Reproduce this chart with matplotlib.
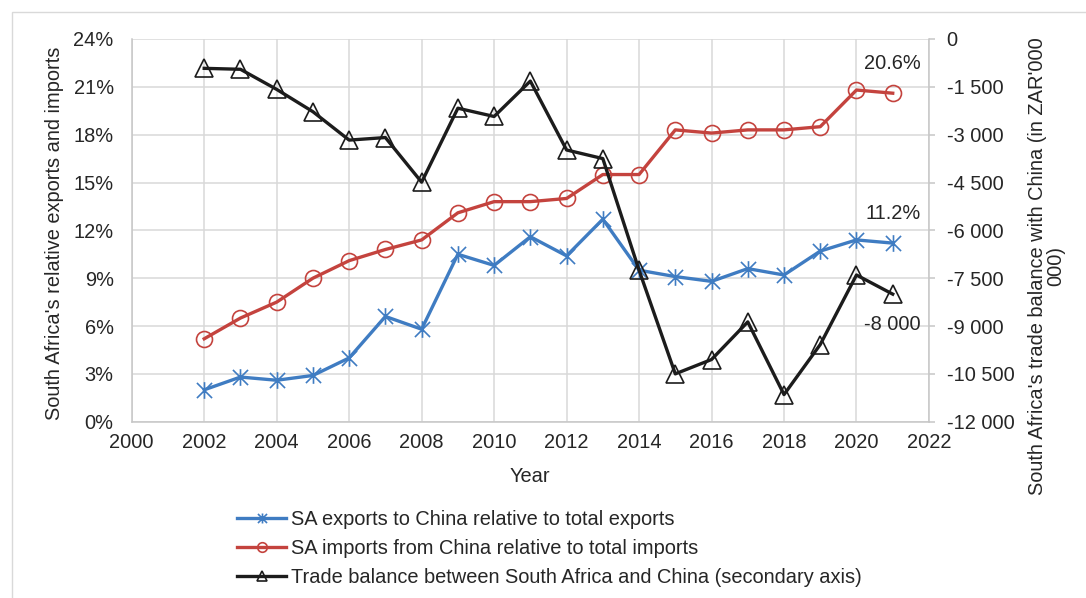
import matplotlib
matplotlib.use("Agg")
import matplotlib.pyplot as plt
from matplotlib.path import Path
from matplotlib.patches import Rectangle
from matplotlib.ticker import FuncFormatter

plt.rcParams['font.family'] = ['Liberation Sans', 'DejaVu Sans']

### DATA ###

years = [2002, 2003, 2004, 2005, 2006, 2007, 2008, 2009, 2010, 2011,
         2012, 2013, 2014, 2015, 2016, 2017, 2018, 2019, 2020, 2021]

# share of SA exports going to China (%)
exportShare = [2.0, 2.8, 2.6, 2.9, 4.0, 6.6, 5.8, 10.5, 9.8, 11.6,
               10.4, 12.7, 9.5, 9.1, 8.8, 9.6, 9.2, 10.7, 11.4, 11.2]

# share of SA imports coming from China (%)
importShare = [5.2, 6.5, 7.5, 9.0, 10.1, 10.8, 11.4, 13.1, 13.8, 13.8,
               14.0, 15.5, 15.5, 18.3, 18.1, 18.3, 18.3, 18.5, 20.8, 20.6]

# trade balance with China (ZAR'000 000)
tradeBalance = [-920, -950, -1580, -2280, -3170, -3090, -4490, -2170, -2430, -1320,
                -3480, -3750, -7250, -10500, -10050, -8870, -11150, -9580, -7400, -8000]

xTicks = list(range(2000, 2023, 2))
pctTicks = list(range(0, 25, 3))
balanceTicks = list(range(-12000, 1, 1500))

legendLabels = ["SA exports to China relative to total exports",
                "SA imports from China relative to total imports",
                "Trade balance between South Africa and China (secondary axis)"]

### STYLE ###

BLUE = '#3F7CC2'
RED = '#C4433E'
BLACK = '#1C1C1C'
GRID = '#D9D9D9'
SPINE = '#C6C6C6'
TEXT = '#262626'
FS = 14.4

# asterisk marker (x with a vertical bar), like the spreadsheet "star"
starPath = Path([(-1, -1), (1, 1), (-1, 1), (1, -1), (0, -1.1), (0, 1.1)],
                [Path.MOVETO, Path.LINETO] * 3)


def thousands(v, pos):
    return '{:,}'.format(int(v)).replace(',', ' ')


def percent(v, pos):
    return '{:d}%'.format(int(round(v)))


fig = plt.figure(figsize=(10.86, 5.98), dpi=100)
ax = fig.add_axes([0.1213, 0.2948, 0.7341, 0.6400])

# light border round the whole chart
fig.patches.append(Rectangle((11.7 / 1086, -0.1), 1.2, 1 - 11.7 / 598 + 0.1,
                             transform=fig.transFigure, fill=False,
                             edgecolor=GRID, linewidth=1.0))

l1, = ax.plot(years, exportShare, color=BLUE, linewidth=2.4, marker=starPath,
              markersize=12, markeredgewidth=1.2, markerfacecolor='none',
              markeredgecolor=BLUE, zorder=3)
l2, = ax.plot(years, importShare, color=RED, linewidth=2.4, marker='o',
              markersize=11.5, markeredgewidth=1.2, markerfacecolor='none',
              markeredgecolor=RED, zorder=3)

ax.set_xlim(2000, 2022)
ax.set_ylim(0, 24)
ax.set_xticks(xTicks)
ax.set_yticks(pctTicks)
ax.yaxis.set_major_formatter(FuncFormatter(percent))
ax.grid(True, color=GRID, linewidth=1.1)
ax.set_axisbelow(True)
ax.tick_params(axis='both', length=0, labelsize=FS, colors=TEXT)
ax.tick_params(axis='x', pad=8)
ax.tick_params(axis='y', pad=13)
for s in ['top', 'right']:
    ax.spines[s].set_visible(False)
for s in ['left', 'bottom']:
    ax.spines[s].set_color(SPINE)
    ax.spines[s].set_linewidth(1.1)

ax2 = ax.twinx()
l3, = ax2.plot(years, tradeBalance, color=BLACK, linewidth=2.4, marker='^',
               markersize=12.5, markeredgewidth=1.2, markerfacecolor='none',
               markeredgecolor=BLACK, zorder=3)
ax2.set_ylim(-12000, 0)
ax2.set_yticks(balanceTicks)
ax2.yaxis.set_major_formatter(FuncFormatter(thousands))
ax2.tick_params(axis='y', length=4.3, width=1.1, color=SPINE, pad=8.4,
                labelsize=FS, labelcolor=TEXT)
for s in ['top', 'left', 'bottom']:
    ax2.spines[s].set_visible(False)
ax2.spines['right'].set_color(SPINE)
ax2.spines['right'].set_linewidth(1.1)

# value labels on the last year
ax.annotate('{:.1f}%'.format(importShare[-1]), (years[-1], importShare[-1]),
            xytext=(0, 21.5), textcoords='offset points', ha='center', va='center',
            fontsize=FS, color=TEXT)
ax.annotate('{:.1f}%'.format(exportShare[-1]), (years[-1], exportShare[-1]),
            xytext=(0, 21.5), textcoords='offset points', ha='center', va='center',
            fontsize=FS, color=TEXT)
ax2.annotate(thousands(tradeBalance[-1], None), (years[-1], tradeBalance[-1]),
             xytext=(0, -22), textcoords='offset points', ha='center', va='center',
             fontsize=FS, color=TEXT)

# axis titles
fig.text(530 / 1086, 1 - 476 / 598, "Year", ha='center', va='center',
         fontsize=FS, color=TEXT)
fig.text(55 / 1086, 1 - 233 / 598, "South Africa's relative exports and imports",
         rotation=90, ha='center', va='center', fontsize=FS, color=TEXT)
fig.text(1047 / 1086, 1 - 266 / 598,
         "South Africa's trade balance with China (in ZAR'000\n000)",
         rotation=90, ha='center', va='center', multialignment='center',
         linespacing=0.95, fontsize=FS, color=TEXT)

leg = fig.legend([l1, l2, l3], legendLabels, loc='upper left',
                 bbox_to_anchor=(237 / 1086, 1 - 510 / 598), frameon=False,
                 fontsize=FS, handlelength=2.45, handletextpad=0.25,
                 labelspacing=0.5, borderpad=0, borderaxespad=0,
                 markerscale=0.6)
for t in leg.get_texts():
    t.set_color(TEXT)

fig.savefig('out.png', dpi=100)
